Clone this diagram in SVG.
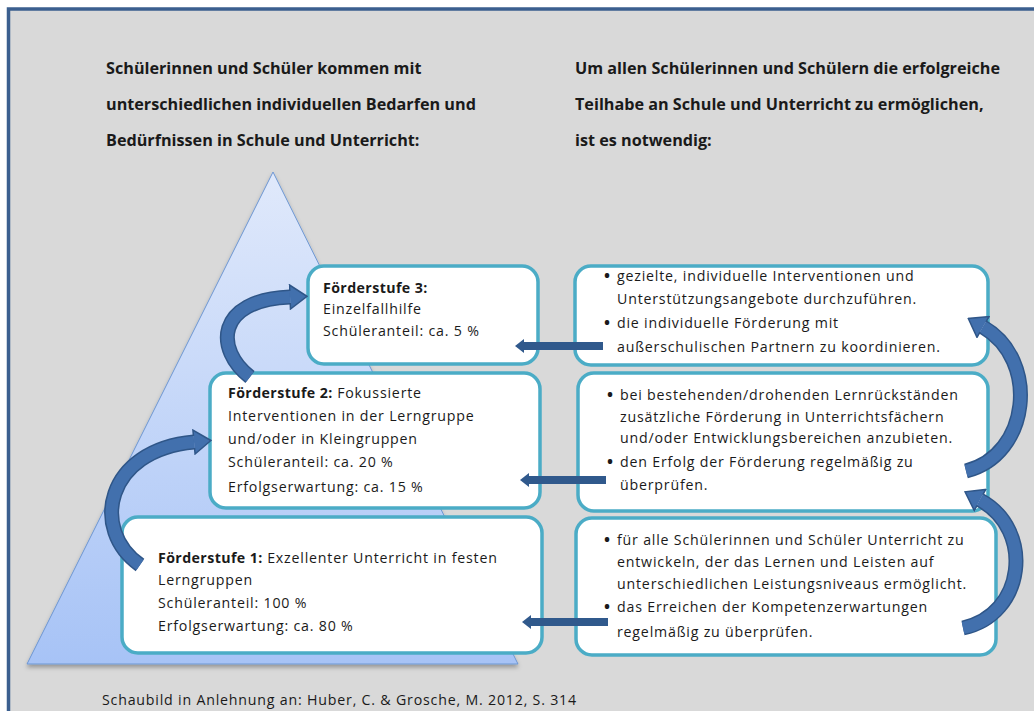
<svg xmlns="http://www.w3.org/2000/svg" width="1034" height="711" viewBox="0 0 1034 711">
<style>
  .head{font-family:"Open Sans","Liberation Sans",sans-serif;font-weight:bold;font-size:16.2px;fill:#1a1a1a}
  .txt{font-family:"Open Sans","Liberation Sans",sans-serif;font-size:14.2px;letter-spacing:0.8px;fill:#1a1a1a}
  .b{font-weight:bold;letter-spacing:0.4px}
  .bul{font-family:"Open Sans","Liberation Sans",sans-serif;font-size:16px;font-weight:bold;fill:#1a1a1a}
  .box{fill:#ffffff;stroke:#4bacc6;stroke-width:3.5}
  .hline{fill:none;stroke:#30598c;stroke-width:8}
  .cunder{fill:none;stroke:#2f5688;stroke-width:15}
  .cover{fill:none;stroke:#4270ad;stroke-width:12}
</style>
<defs>
  <linearGradient id="triGrad" x1="0" y1="0" x2="0" y2="1">
    <stop offset="0" stop-color="#e0e9fb"/>
    <stop offset="1" stop-color="#a7c3f6"/>
  </linearGradient>
  <filter id="shadow" x="-10%" y="-10%" width="120%" height="120%">
    <feDropShadow dx="0" dy="3" stdDeviation="2" flood-color="#000" flood-opacity="0.3"/>
  </filter>
  <marker id="hArrow" markerUnits="userSpaceOnUse" viewBox="0 0 9 14" markerWidth="9" markerHeight="14" refX="0" refY="7" orient="auto">
    <path d="M0,0 L9,7 L0,14 Z" fill="#30598c"/>
  </marker>
  <marker id="cArrow" markerUnits="userSpaceOnUse" viewBox="-1 -1 19 26" markerWidth="19" markerHeight="26" refX="0" refY="12" orient="auto">
    <path d="M0,0 L17,12 L0,24 Z" fill="#4270ad"/>
    <path d="M0,6 L0,0 L17,12 L0,24 L0,18" fill="none" stroke="#2f5688" stroke-width="1.5"/>
  </marker>
</defs>

<rect x="0" y="0" width="1034" height="711" fill="#ffffff"/>
<rect id="frame" x="8.5" y="9" width="1040" height="720" fill="#d9d9d9" stroke="#3b5f8f" stroke-width="3.5"/>

<g id="heading-left">
  <text class="head" x="106" y="74">Schülerinnen und Schüler kommen mit</text>
  <text class="head" x="106" y="110">unterschiedlichen individuellen Bedarfen und</text>
  <text class="head" x="106" y="146">Bedürfnissen in Schule und Unterricht:</text>
</g>
<g id="heading-right">
  <text class="head" x="575" y="74">Um allen Schülerinnen und Schülern die erfolgreiche</text>
  <text class="head" x="575" y="110">Teilhabe an Schule und Unterricht zu ermöglichen,</text>
  <text class="head" x="575" y="146">ist es notwendig:</text>
</g>

<g id="pyramid">
  <polygon points="273,172 27,664 518,664" fill="url(#triGrad)" stroke="#6d97d3" stroke-width="1" filter="url(#shadow)"/>
</g>

<g id="stufe3">
  <rect class="box" x="308" y="266" width="230" height="98" rx="16"/>
  <text class="txt" x="323" y="293"><tspan class="b">Förderstufe 3:</tspan></text>
  <text class="txt" x="323" y="314">Einzelfallhilfe</text>
  <text class="txt" x="323" y="336">Schüleranteil: ca. 5 %</text>
</g>
<g id="stufe2">
  <rect class="box" x="210" y="373" width="330" height="135" rx="16"/>
  <text class="txt" x="228" y="398"><tspan class="b">Förderstufe 2:</tspan> Fokussierte</text>
  <text class="txt" x="228" y="421">Interventionen in der Lerngruppe</text>
  <text class="txt" x="228" y="444">und/oder in Kleingruppen</text>
  <text class="txt" x="228" y="467">Schüleranteil: ca. 20 %</text>
  <text class="txt" x="228" y="492">Erfolgserwartung: ca. 15 %</text>
</g>
<g id="stufe1">
  <rect class="box" x="122" y="517" width="420" height="136" rx="16"/>
  <text class="txt" x="158" y="563"><tspan class="b">Förderstufe 1:</tspan> Exzellenter Unterricht in festen</text>
  <text class="txt" x="158" y="585">Lerngruppen</text>
  <text class="txt" x="158" y="608">Schüleranteil: 100 %</text>
  <text class="txt" x="158" y="631">Erfolgserwartung: ca. 80 %</text>
</g>

<g id="massnahmen3">
  <rect class="box" x="575" y="266" width="413" height="99" rx="16"/>
  <text class="bul" x="604" y="281">•</text>
  <text class="txt" x="617" y="281">gezielte, individuelle Interventionen und</text>
  <text class="txt" x="617" y="304">Unterstützungsangebote durchzuführen.</text>
  <text class="bul" x="604" y="328">•</text>
  <text class="txt" x="617" y="328">die individuelle Förderung mit</text>
  <text class="txt" x="617" y="352">außerschulischen Partnern zu koordinieren.</text>
</g>
<g id="massnahmen2">
  <rect class="box" x="578" y="373" width="410" height="138" rx="16"/>
  <text class="bul" x="607" y="400">•</text>
  <text class="txt" x="620" y="400">bei bestehenden/drohenden Lernrückständen</text>
  <text class="txt" x="620" y="422">zusätzliche Förderung in Unterrichtsfächern</text>
  <text class="txt" x="620" y="443">und/oder Entwicklungsbereichen anzubieten.</text>
  <text class="bul" x="607" y="467">•</text>
  <text class="txt" x="620" y="467">den Erfolg der Förderung regelmäßig zu</text>
  <text class="txt" x="620" y="490">überprüfen.</text>
</g>
<g id="massnahmen1">
  <rect class="box" x="576" y="518" width="420" height="137" rx="16"/>
  <text class="bul" x="604" y="545">•</text>
  <text class="txt" x="617" y="545">für alle Schülerinnen und Schüler Unterricht zu</text>
  <text class="txt" x="617" y="567">entwickeln, der das Lernen und Leisten auf</text>
  <text class="txt" x="617" y="589">unterschiedlichen Leistungsniveaus ermöglicht.</text>
  <text class="bul" x="604" y="612">•</text>
  <text class="txt" x="617" y="612">das Erreichen der Kompetenzerwartungen</text>
  <text class="txt" x="617" y="637">regelmäßig zu überprüfen.</text>
</g>

<g id="connectors">
  <path class="hline" d="M603,346 L524,346" marker-end="url(#hArrow)"/>
  <path class="hline" d="M606,480 L529,480" marker-end="url(#hArrow)"/>
  <path class="hline" d="M608,622 L531,622" marker-end="url(#hArrow)"/>

  <path class="cunder" d="M250,377 C215,350 215,300 290,297"/>
  <path class="cover" d="M250,377 C215,350 215,300 290,297" marker-end="url(#cArrow)"/>

  <path class="cunder" d="M140,565 C90,530 105,450 194,442"/>
  <path class="cover" d="M140,565 C90,530 105,450 194,442" marker-end="url(#cArrow)"/>

  <path class="cunder" d="M966,471 C1030,455 1040,360 983,327"/>
  <path class="cover" d="M966,471 C1030,455 1040,360 983,327" marker-end="url(#cArrow)"/>

  <path class="cunder" d="M963,628 C1025,615 1035,530 980,500"/>
  <path class="cover" d="M963,628 C1025,615 1035,530 980,500" marker-end="url(#cArrow)"/>
</g>

<g id="footer">
  <text class="txt" x="102" y="705">Schaubild in Anlehnung an: Huber, C. &amp; Grosche, M. 2012, S. 314</text>
</g>
</svg>
